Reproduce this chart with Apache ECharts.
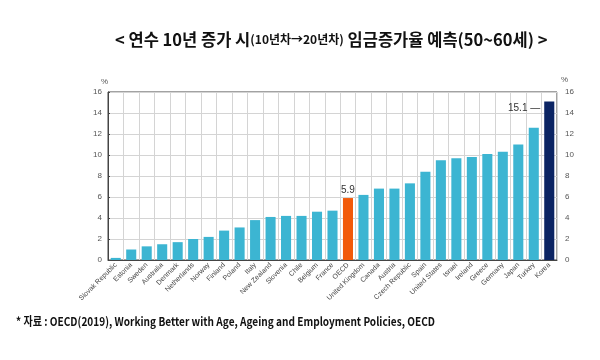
<!DOCTYPE html>
<html><head><meta charset="utf-8">
<script src="https://cdn.jsdelivr.net/npm/echarts@6/dist/echarts.min.js"></script>
<style>html,body{margin:0;padding:0;background:#fff}#c{width:600px;height:360px}</style>
</head><body><div id="c"></div>
<script>
const categories = ["Slovak Republic","Estonia","Sweden","Australia","Denmark","Netherlands","Norway","Finland","Poland","Italy","New Zealand","Slovenia","Chile","Belgium","France","OECD","United Kingdom","Canada","Austria","Czech Republic","Spain","United States","Israel","Ireland","Greece","Germany","Japan","Turkey","Korea"];
const values = [0.2,1.0,1.3,1.5,1.7,2.0,2.2,2.8,3.1,3.8,4.1,4.2,4.2,4.6,4.7,5.9,6.2,6.8,6.8,7.3,8.4,9.5,9.7,9.8,10.1,10.3,11.0,12.6,15.1];
const yTicks = {min:0, max:16, interval:2};
const titleMain1 = "< 연수 10년 증가 시";
const titleSmall = "(10년차→20년차)";
const titleMain2 = " 임금증가율 예측(50~60세) >";
const footnote = "* 자료 : OECD(2019), Working Better with Age, Ageing and Employment Policies, OECD";

const BLUE = '#3cb5d2', ORANGE = '#f25a0a', NAVY = '#0b2463';
const data = values.map((v, i) => {
  const item = {value: v};
  if (categories[i] === 'OECD') {
    item.itemStyle = {color: ORANGE};
    item.label = {show: true, position: 'top', distance: 3, fontSize: 10, color: '#333', formatter: '{c}'};
  } else if (categories[i] === 'Korea') {
    item.itemStyle = {color: NAVY};
    item.label = {show: true, position: [-4, 7], align: 'right', verticalAlign: 'middle', fontSize: 10, color: '#333', formatter: '{c} —'};
  }
  return item;
});

const chart = echarts.init(document.getElementById('c'));
chart.setOption({
  animation: false,
  textStyle: {fontFamily: 'Liberation Sans'},
  title: {
    left: 110, top: 26,
    text: '{m|' + titleMain1 + '}{s|' + titleSmall + '}{m|' + titleMain2 + '}',
    textStyle: {
      rich: {
        m: {fontFamily: 'Noto Sans CJK KR', fontWeight: 'bold', fontSize: 16.5, color: '#111'},
        s: {fontFamily: 'Noto Sans CJK KR', fontWeight: 'bold', fontSize: 12, color: '#111'}
      }
    }
  },
  graphic: [{
    type: 'text', x: 16, y: 315, scaleX: 0.84, scaleY: 1,
    style: {text: footnote, fontFamily: 'Noto Sans CJK KR', fontWeight: 'bold', fontSize: 12, fill: '#111'}
  }],
  grid: {left: 108, right: 43, top: 92, bottom: 100, show: true, borderColor: '#444', borderWidth: 1, backgroundColor: 'transparent'},
  xAxis: {
    type: 'category', data: categories, boundaryGap: true,
    axisLine: {lineStyle: {color: '#444'}},
    axisTick: {show: false},
    splitLine: {show: true, lineStyle: {color: '#d4d4d4'}},
    axisLabel: {interval: 0, rotate: 45, fontSize: 7, color: '#444', margin: 4}
  },
  yAxis: [{
    type: 'value', min: yTicks.min, max: yTicks.max, interval: yTicks.interval, position: 'left',
    name: '%', nameGap: 6, nameTextStyle: {fontSize: 8, color: '#555', align: 'right', padding: [0, 0, 0, 0]},
    axisLine: {show: true, lineStyle: {color: '#444'}},
    axisTick: {show: true, inside: true, length: 2, lineStyle: {color: '#444'}},
    splitLine: {show: true, lineStyle: {color: '#d4d4d4'}},
    axisLabel: {fontSize: 8, color: '#555', margin: 6}
  }, {
    type: 'value', min: yTicks.min, max: yTicks.max, interval: yTicks.interval, position: 'right',
    name: '%', nameGap: 8, nameTextStyle: {fontSize: 8, color: '#555', align: 'left', padding: [0, 0, 0, 4]},
    axisLine: {show: false}, axisTick: {show: false},
    splitLine: {show: false},
    axisLabel: {fontSize: 8, color: '#555', margin: 8}
  }],
  series: [{
    type: 'bar', data: data, barCategoryGap: '35%',
    itemStyle: {color: BLUE}
  }]
});
</script></body></html>
